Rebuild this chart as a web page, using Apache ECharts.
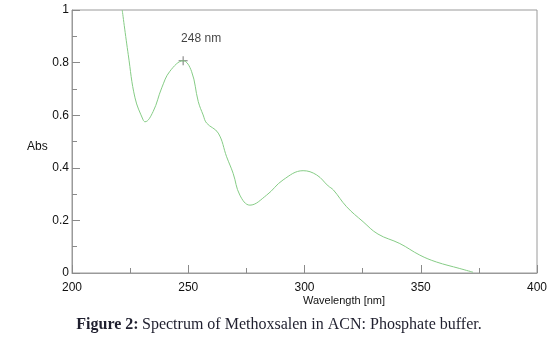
<!DOCTYPE html>
<html><head><meta charset="utf-8">
<script src="https://cdn.jsdelivr.net/npm/echarts@6/dist/echarts.min.js"></script>
<style>html,body{margin:0;padding:0;background:#fff}#c{width:557px;height:338px}</style>
</head><body><div id="c"></div>
<script>
const wavelength = [221.6,224.2,227.1,230.6,231.4,234.9,238.6,242.1,247.8,251.4,254.3,256.4,257.9,262.9,266.5,269.3,272.2,276.5,283.7,290.8,299.4,305.2,310.2,312.4,318.1,325.2,331.6,341.0,349.6,356.7,366.8,372.5];
const absorbance = [1.0,0.830,0.666,0.582,0.575,0.614,0.704,0.767,0.807,0.767,0.652,0.601,0.570,0.532,0.442,0.379,0.296,0.258,0.296,0.354,0.389,0.373,0.331,0.316,0.252,0.195,0.148,0.112,0.068,0.042,0.017,0.003];
const peakX = 247.8, peakY = 0.807, peakLabel = '248 nm';
const xTicks = [200,250,300,350,400];
const yTicks = [0,0.2,0.4,0.6,0.8,1];

const chart = echarts.init(document.getElementById('c'), null, {renderer:'canvas'});
const font = 'Liberation Sans, Arial, sans-serif';
const serif = 'Liberation Serif, Times New Roman, serif';
chart.setOption({
  animation:false,
  grid:{left:72,right:20,top:10,bottom:65,show:true,borderColor:'#9a9a9a',borderWidth:1},
  xAxis:{type:'value',min:xTicks[0],max:xTicks[xTicks.length-1],interval:50,
    axisLine:{lineStyle:{color:'#9a9a9a'}},
    axisTick:{inside:true,length:8,lineStyle:{color:'#8a8a8a'}},
    minorTick:{show:true,splitNumber:2,length:5,lineStyle:{color:'#8a8a8a'}},
    splitLine:{show:false},
    axisLabel:{color:'#111',fontSize:12,fontFamily:font,margin:9}},
  yAxis:{type:'value',min:yTicks[0],max:yTicks[yTicks.length-1],interval:0.2,
    axisLine:{show:true,lineStyle:{color:'#9a9a9a'}},
    axisTick:{show:true,inside:true,length:8,lineStyle:{color:'#8a8a8a'}},
    minorTick:{show:true,splitNumber:2,length:5,lineStyle:{color:'#8a8a8a'}},
    splitLine:{show:false},
    axisLabel:{color:'#111',fontSize:12,fontFamily:font,margin:3,formatter:v=>String(Math.round(v*10)/10)}},
  series:[
    {type:'line',data:wavelength.map((x,i)=>[x,absorbance[i]]),smooth:0.4,showSymbol:false,
     lineStyle:{color:'#86cc86',width:1},clip:true},
    {type:'scatter',data:[[peakX,peakY]],symbol:'path://M5,0L5,10M0,5L10,5',symbolSize:9,
     itemStyle:{color:'none',borderColor:'#555',borderWidth:1},
     label:{show:true,formatter:peakLabel,position:'top',offset:[18,-4],color:'#111',fontSize:12,fontFamily:font}}
  ],
  graphic:[
    {type:'text',left:27,top:141,style:{text:'Abs',font:'12px '+font,fill:'#111'}},
    {type:'text',x:344,y:301,style:{text:'Wavelength [nm]',font:'11px '+font,fill:'#111',textAlign:'center',textVerticalAlign:'middle'}},
    {type:'text',x:279,y:325,style:{text:'{b|Figure 2:} {r|Spectrum of Methoxsalen in ACN: Phosphate buffer.}',
      textAlign:'center',textVerticalAlign:'middle',
      rich:{b:{fontWeight:'bold',fontSize:16,fontFamily:serif,fill:'#1f1f2e'},
            r:{fontSize:16,fontFamily:serif,fill:'#1f1f2e'}}}}
  ]
});
</script></body></html>
